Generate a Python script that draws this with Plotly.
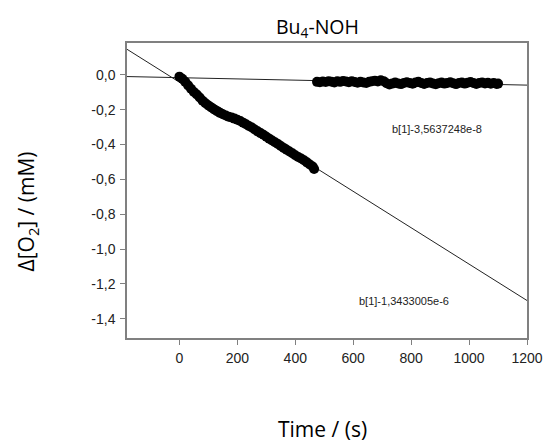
import numpy as np
import plotly.graph_objects as go

# ---- data ----
t1 = [0, 10, 20, 30, 40, 50, 60, 70, 80, 90, 100, 110, 120, 130, 140, 150, 160, 170, 180, 190,
      200, 210, 220, 230, 240, 250, 260, 270, 280, 290, 300, 310, 320, 330, 340, 350, 360, 370,
      380, 390, 400, 410, 420, 430, 440, 450, 460, 465]
o2_1 = [-0.010, -0.022, -0.040, -0.060, -0.080, -0.098, -0.113, -0.130, -0.148, -0.163, -0.176,
        -0.187, -0.199, -0.208, -0.218, -0.226, -0.233, -0.240, -0.245, -0.251, -0.257, -0.265,
        -0.274, -0.283, -0.293, -0.302, -0.313, -0.324, -0.334, -0.344, -0.355, -0.366, -0.377,
        -0.387, -0.397, -0.408, -0.419, -0.430, -0.440, -0.450, -0.461, -0.471, -0.480, -0.490,
        -0.502, -0.514, -0.526, -0.540]

t2 = [475, 485, 495, 505, 515, 525, 535, 545, 555, 565, 575, 585, 595, 605, 615, 625, 635, 645,
      655, 665, 675, 685, 695, 705, 715, 725, 735, 745, 755, 765, 775, 785, 795, 805, 815, 825,
      835, 845, 855, 865, 875, 885, 895, 905, 915, 925, 935, 945, 955, 965, 975, 985, 995, 1005,
      1015, 1025, 1035, 1045, 1055, 1065, 1075, 1085, 1095, 1100]
o2_2 = [-0.040, -0.042, -0.038, -0.041, -0.036, -0.039, -0.043, -0.037, -0.040, -0.035, -0.038,
        -0.042, -0.036, -0.041, -0.045, -0.039, -0.043, -0.047, -0.040, -0.036, -0.033, -0.038,
        -0.031, -0.036, -0.048, -0.055, -0.050, -0.044, -0.049, -0.053, -0.046, -0.042, -0.047,
        -0.051, -0.044, -0.040, -0.046, -0.052, -0.047, -0.043, -0.049, -0.054, -0.048, -0.044,
        -0.050, -0.046, -0.042, -0.048, -0.053, -0.047, -0.044, -0.050, -0.045, -0.041, -0.047,
        -0.052, -0.046, -0.043, -0.049, -0.045, -0.051, -0.047, -0.052, -0.050]

# linear fits (intercept, slope in mM/s)
fit1 = (-0.042, -1.044e-3)
fit2 = (-0.016, -3.56e-5)
fit_x = [-181, 1200]

fit_labels = ["b[1]-1,3433005e-6", "b[1]-3,5637248e-8"]

x_ticks = [0, 200, 400, 600, 800, 1000, 1200]
x_ticktext = ["0", "200", "400", "600", "800", "1000", "1200"]
y_ticks = [0.0, -0.2, -0.4, -0.6, -0.8, -1.0, -1.2, -1.4]
y_ticktext = ["0,0", "-0,2", "-0,4", "-0,6", "-0,8", "-1,0", "-1,2", "-1,4"]

fig = go.Figure()

for (b0, b1) in (fit1, fit2):
    xs = np.array(fit_x, dtype=float)
    fig.add_trace(go.Scatter(x=xs, y=b0 + b1 * xs, mode="lines",
                             line=dict(color="#222222", width=1), showlegend=False,
                             hoverinfo="skip"))

for tx, ty in ((t1, o2_1), (t2, o2_2)):
    fig.add_trace(go.Scatter(x=tx, y=ty, mode="markers",
                             marker=dict(color="black", size=10, line=dict(width=0)),
                             showlegend=False))

axis_common = dict(showline=True, linecolor="#808080", linewidth=1.5, mirror=True,
                   showgrid=False, zeroline=False, ticks="outside", ticklen=5,
                   tickcolor="#808080", tickwidth=1,
                   tickfont=dict(family="Liberation Sans, Arial, sans-serif", size=14,
                                 color="#222222"))

fig.update_layout(
    width=555, height=445,
    margin=dict(l=127, r=18, t=43, b=107),
    paper_bgcolor="white", plot_bgcolor="white",
    xaxis=dict(range=[-181, 1200], tickvals=x_ticks, ticktext=x_ticktext,
               ticklabelstandoff=1, **axis_common),
    yaxis=dict(range=[-1.51, 0.183], tickvals=y_ticks, ticktext=y_ticktext,
               ticklabelstandoff=2, **axis_common),
    font=dict(family="Open Sans, sans-serif", color="black"),
)

# title and axis titles
fig.add_annotation(text="Bu<sub>4</sub>-NOH", xref="paper", yref="paper",
                   x=(322 - 127) / 410, y=1 + (43 - 28) / 295, showarrow=False,
                   font=dict(family="Open Sans, sans-serif", size=19.5, color="black"),
                   xanchor="center", yanchor="middle")
fig.add_annotation(text="Time / (s)", xref="paper", yref="paper",
                   x=(327 - 127) / 410, y=-(429 - 338) / 295, showarrow=False,
                   font=dict(family="Open Sans, sans-serif", size=21, color="black"),
                   xanchor="center", yanchor="middle")
fig.add_annotation(text="Δ[O<sub>2</sub>] / (mM)", xref="paper", yref="paper",
                   x=-(127 - 25) / 410, y=(338 - 211) / 295, showarrow=False, textangle=-90,
                   font=dict(family="Open Sans, sans-serif", size=21, color="black"),
                   xanchor="center", yanchor="middle")

# fit annotations
fig.add_annotation(text=fit_labels[1], x=890, y=-0.31, showarrow=False,
                   font=dict(family="Liberation Sans, Arial, sans-serif", size=11,
                             color="#222222"), xanchor="center", yanchor="middle")
fig.add_annotation(text=fit_labels[0], x=775, y=-1.300, showarrow=False,
                   font=dict(family="Liberation Sans, Arial, sans-serif", size=11,
                             color="#222222"), xanchor="center", yanchor="middle")

fig.write_html("out.html")
